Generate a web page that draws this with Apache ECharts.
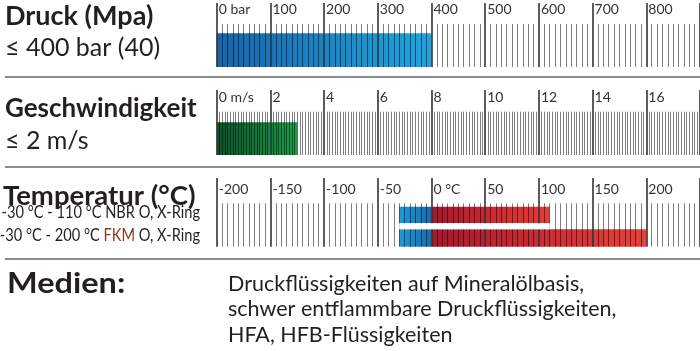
<!DOCTYPE html>
<html><head><meta charset="utf-8">
<script src="https://cdn.jsdelivr.net/npm/echarts@6/dist/echarts.min.js"></script>
<style>html,body{margin:0;padding:0;background:#fff}#c{width:700px;height:351px}</style>
</head><body><div id="c"></div>
<script>
// ---- data ----
const pressureTicks = ['0 bar','100','200','300','400','500','600','700','800'];
const speedTicks = ['0 m/s','2','4','6','8','10','12','14','16'];
const tempTicks = ['-200','-150','-100','-50','0 °C','50','100','150','200'];
const pressureRange = [0, 400];
const speedRange = [0, 3];
const tempRows = ['NBR', 'FKM'];
const tempLow = [-30, -30];
const tempHigh = [110, 200];
const mediaLines = ['Druckflüssigkeiten auf Mineralölbasis,', 'schwer entflammbare Druckflüssigkeiten,', 'HFA, HFB-Flüssigkeiten'];

const chart = echarts.init(document.getElementById('c'), null, {renderer: 'canvas'});
const LEFT = 216.7;
const FONT = 'Lato';
const TXT = '#231f20';

function mkX(gi, min, max, interval, minorSplit, labels, majorLen, minorLen, margin) {
  return {
    type: 'value', gridIndex: gi, min: min, max: max, interval: interval, position: 'bottom', z: 3,
    axisLine: {show: false}, splitLine: {show: false},
    axisTick: {show: true, inside: true, length: majorLen, lineStyle: {color: '#333', width: 1.6}},
    minorTick: {show: true, splitNumber: minorSplit, length: minorLen, lineStyle: {color: 'rgba(0,0,0,0.5)', width: 1}},
    axisLabel: {inside: true, margin: margin, showMaxLabel: false, align: 'left', verticalAlign: 'middle',
      padding: [0, 0, 0, 2], color: '#333', fontFamily: FONT, fontSize: 14,
      formatter: v => { const i = Math.round((v - min) / interval); return labels[i] !== undefined ? labels[i] : ''; }}
  };
}
function mkY(gi) { return {type: 'value', gridIndex: gi, min: 0, max: 100, show: false}; }
function grad(c0, c1) { return new echarts.graphic.LinearGradient(0, 0, 1, 0, [{offset: 0, color: c0}, {offset: 1, color: c1}]); }
function rectSeries(gi, data, yLo, yHi, c0, c1, z) {
  return {
    type: 'custom', xAxisIndex: gi, yAxisIndex: gi, z: z, silent: true,
    data: data,
    renderItem: function (params, api) {
      const p0 = api.coord([api.value(0), yHi]);
      const p1 = api.coord([api.value(1), yLo]);
      return {type: 'rect', shape: {x: p0[0], y: p0[1], width: p1[0] - p0[0], height: p1[1] - p0[1]},
        style: {fill: c0 === c1 ? c0 : grad(c0, c1)}};
    }
  };
}

const series = [
  rectSeries(0, [pressureRange], 0, 52.7, '#1864aa', '#20a5df', 2),
  rectSeries(1, [speedRange], 0, 50.3, '#0a5429', '#17a04b', 2),
  // temperature: NBR row (upper) and FKM row (lower)
  rectSeries(2, [[tempLow[0], 0]], 34.1, 58.2, '#1f9bd9', '#1869ad', 2),
  rectSeries(2, [[0, tempHigh[0]]], 34.1, 58.2, '#a8172b', '#e63d38', 2),
  rectSeries(2, [[tempLow[1], 0]], 0, 25.3, '#1f9bd9', '#1869ad', 2),
  rectSeries(2, [[0, tempHigh[1]]], 0, 25.3, '#a8172b', '#e8413a', 2),
  rectSeries(2, [[tempLow[0], tempHigh[0]]], 25.3, 34.1, '#ffffff', '#ffffff', 4)
];

function t(text, x, y, font, sx) {
  return {type: 'text', x: x, y: y, scaleX: sx || 1, style: {text: text, x: 0, y: 0, font: font, fill: TXT, textAlign: 'left', textVerticalAlign: 'middle'}};
}
function hline(y) { return {type: 'line', shape: {x1: 5, y1: y, x2: 700, y2: y}, style: {stroke: '#8c8c8c', lineWidth: 2}}; }

const graphics = [
  t('Druck (Mpa)', 5, 16, 'bold 27px ' + FONT),
  t('≤ 400 bar (40)', 5, 47.5, '25px ' + FONT),
  hline(77),
  t('Geschwindigkeit', 5, 109, 'bold 26px ' + FONT),
  t('≤ 2 m/s', 5, 140.5, '25px ' + FONT),
  hline(167),
  t('Temperatur (°C)', 3, 196.5, 'bold 27.5px ' + FONT),
  {type: 'text', x: 200, y: 213, scaleX: 0.86, style: {text: '-30 °C - 110 °C ' + tempRows[0] + ' O, X-Ring', x: 0, y: 0, font: '17px ' + FONT, fill: TXT, textAlign: 'right', textVerticalAlign: 'middle'}},
  {type: 'text', x: 200, y: 235.5, scaleX: 0.86, style: {text: '{a|-30 °C - 200 °C }{b|' + tempRows[1] + '}{a| O, X-Ring}', x: 0, y: 0, fill: TXT, textAlign: 'right', textVerticalAlign: 'middle',
    rich: {a: {fontFamily: FONT, fontSize: 17, fill: TXT}, b: {fontFamily: FONT, fontSize: 17, fill: '#8a3b1e'}}}},
  hline(259),
  t('Medien:', 7, 283.5, 'bold 28px ' + FONT, 1.16),
  t(mediaLines[0], 228, 284, '21.5px ' + FONT),
  t(mediaLines[1], 228, 309.5, '21.5px ' + FONT),
  t(mediaLines[2], 228, 335, '21.5px ' + FONT)
];

chart.setOption({
  animation: false,
  grid: [
    {left: LEFT, right: 0, top: 3, height: 64},
    {left: LEFT, right: 0, top: 90, height: 65},
    {left: LEFT, right: 0, top: 178, height: 68.7}
  ],
  xAxis: [
    mkX(0, 0, 900, 100, 10, pressureTicks, 64, 43, 58),
    mkX(1, 0, 18, 2, 20, speedTicks, 65, 43.3, 57.5),
    mkX(2, -200, 250, 50, 10, tempTicks, 68.7, 43.4, 57.7)
  ],
  yAxis: [mkY(0), mkY(1), mkY(2)],
  series: series,
  graphic: graphics
});
</script></body></html>
